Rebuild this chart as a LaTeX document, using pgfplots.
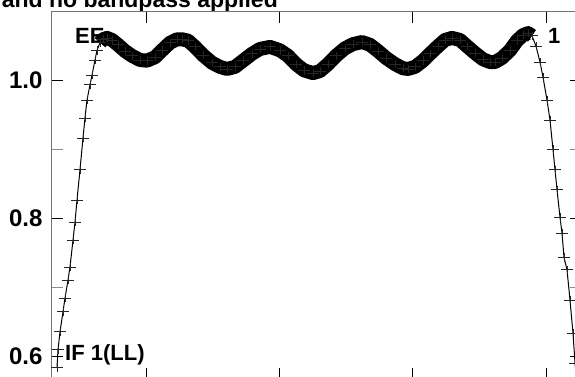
\documentclass[border=0pt]{standalone}
\usepackage{fontspec}
\setmainfont{Liberation Sans}
\usepackage{pgfplots}
\pgfplotsset{compat=1.18}
\usepackage{pgfplotstable}

\pgfplotstableread{
ch v
33.25 0.583
34 0.609
35.5 0.635
37.75 0.664
39.25 0.684
41.5 0.710
43 0.729
45.25 0.768
46.75 0.794
48.25 0.826
50.5 0.870
52.75 0.916
54.25 0.945
55.75 0.971
58 0.993
59.5 1.007
61.75 1.029
63.25 1.043
65.5 1.054
67.75 1.059
70.75 1.061
74.5 1.058
79 1.051
84.25 1.042
89.5 1.035
95.5 1.029
100.75 1.028
106.75 1.033
112 1.043
118 1.054
123.25 1.059
127 1.059
131.5 1.057
136.75 1.048
142.75 1.036
149.5 1.025
155.5 1.019
160.75 1.016
166.75 1.019
172.75 1.028
179.5 1.038
185.5 1.045
193 1.048
200.5 1.043
206.5 1.035
212.5 1.023
218.5 1.014
225.25 1.010
230.5 1.013
236.5 1.023
242.5 1.035
249.25 1.046
255.25 1.052
262 1.055
268 1.051
274 1.042
280 1.032
286.75 1.023
292.75 1.017
296.5 1.016
301.75 1.019
307.75 1.028
313 1.038
319 1.049
324.25 1.058
329.5 1.061
335.5 1.058
340.75 1.049
346.75 1.039
352.75 1.030
358 1.026
361.75 1.026
367 1.032
373 1.043
378.25 1.057
382.75 1.065
386.5 1.068
389.5 1.064
392.5 1.049
395.5 1.026
397.75 1.004
400.75 0.971
403 0.942
405.25 0.899
406.75 0.870
408.25 0.841
410.5 0.801
412 0.778
413.5 0.743
415.75 0.725
418 0.681
420.25 0.633
421.75 0.590
423.25 0.558
}\bandpass

\begin{document}
\begin{tikzpicture}
\path[use as bounding box] (-51pt,380.15pt) rectangle (524pt,4.15pt);
\clip (-51pt,380.15pt) rectangle (524pt,4.15pt);
\node[anchor=base east, inner sep=0, font=\bfseries\fontsize{23}{23}\selectfont] at (227pt,373.15pt) {and no bandpass applied};
\node[anchor=base west, inner sep=0, font=\bfseries\fontsize{22}{22}\selectfont] at (24pt,337.15pt) {EE};
\node[anchor=base west, inner sep=0, font=\bfseries\fontsize{22}{22}\selectfont] at (497pt,337.15pt) {1};
\node[anchor=base west, inner sep=0, font=\bfseries\fontsize{22}{22}\selectfont] at (14pt,20.15pt) {IF 1(LL)};
\begin{axis}[
  scale only axis, width=531pt, height=369.15pt,
  xmin=28.75, xmax=427, ymin=0.565, ymax=1.1,
  axis line style={black!55, line width=0.8pt},
  tick align=inside,
  xtick={100,200,300,400}, xticklabels={},
  ytick={0.6,0.8,1.0}, minor ytick={0.7,0.9,1.1},
  major tick length=12pt, minor tick length=12pt,
  major tick style={black, line width=0.8pt},
  minor tick style={black!45, line width=0.8pt},
  yticklabel style={font=\bfseries\fontsize{24}{24}\selectfont, xshift=-5pt},
  /pgf/number format/.cd, fixed, fixed zerofill, precision=1, assume math mode=true,
]
\addplot[black, line width=14pt, line cap=butt, line join=round, restrict x to domain=64:392] table {\bandpass};
\addplot[black, line width=1pt, mark=+, mark size=6pt, mark options={line width=0.8pt, black!85, yscale=0.7}] table {\bandpass};
\end{axis}
\end{tikzpicture}
\end{document}
